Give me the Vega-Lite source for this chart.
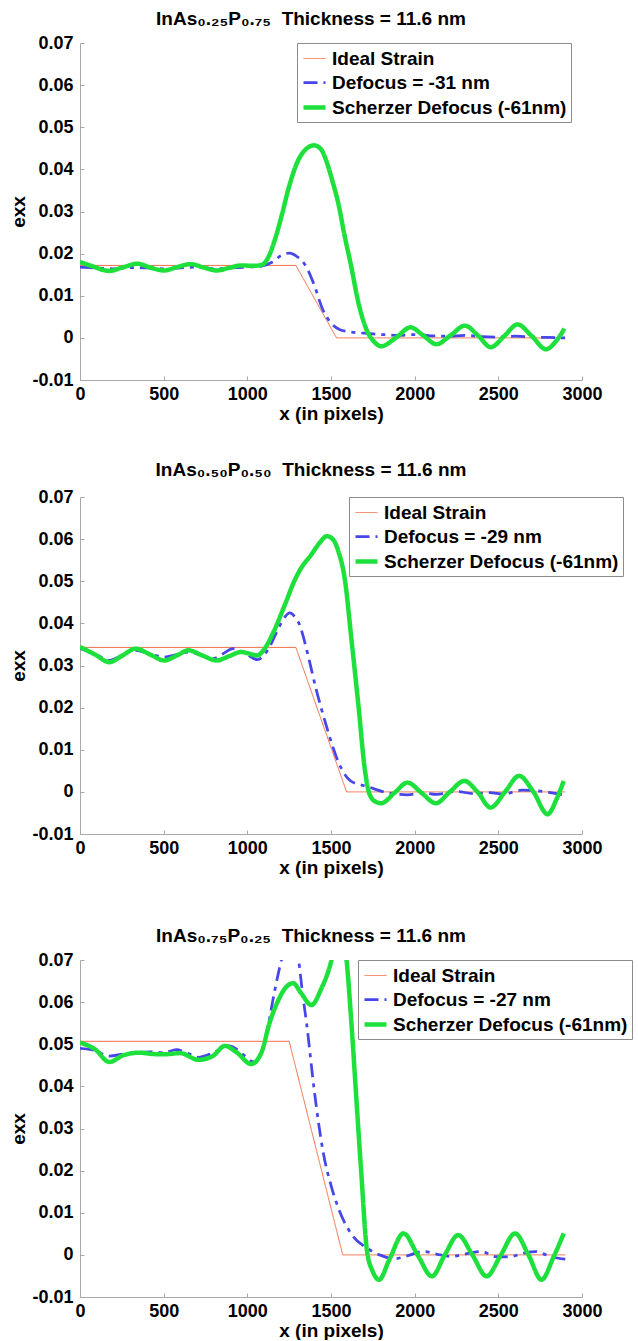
{
  "$schema": "https://vega.github.io/schema/vega-lite/v6.json",
  "padding": {"left": 9, "top": 10, "right": 0, "bottom": 0},
  "autosize": {"type": "pad"},
  "datasets": {
    "p1": [
      {"series": "Ideal Strain", "x": 0, "exx": 0.0172},
      {"series": "Ideal Strain", "x": 1290, "exx": 0.0172},
      {"series": "Ideal Strain", "x": 1533, "exx": 0},
      {"series": "Ideal Strain", "x": 2900, "exx": 0},
      {"series": "Defocus = -31 nm", "x": 0, "exx": 0.0168},
      {"series": "Defocus = -31 nm", "x": 100, "exx": 0.0166},
      {"series": "Defocus = -31 nm", "x": 200, "exx": 0.0164},
      {"series": "Defocus = -31 nm", "x": 300, "exx": 0.0167},
      {"series": "Defocus = -31 nm", "x": 400, "exx": 0.0166},
      {"series": "Defocus = -31 nm", "x": 500, "exx": 0.0164},
      {"series": "Defocus = -31 nm", "x": 600, "exx": 0.0166},
      {"series": "Defocus = -31 nm", "x": 700, "exx": 0.0168},
      {"series": "Defocus = -31 nm", "x": 800, "exx": 0.0164},
      {"series": "Defocus = -31 nm", "x": 900, "exx": 0.0166},
      {"series": "Defocus = -31 nm", "x": 1000, "exx": 0.0168},
      {"series": "Defocus = -31 nm", "x": 1080, "exx": 0.017},
      {"series": "Defocus = -31 nm", "x": 1150, "exx": 0.018},
      {"series": "Defocus = -31 nm", "x": 1200, "exx": 0.0195},
      {"series": "Defocus = -31 nm", "x": 1250, "exx": 0.0201},
      {"series": "Defocus = -31 nm", "x": 1300, "exx": 0.0192},
      {"series": "Defocus = -31 nm", "x": 1350, "exx": 0.017},
      {"series": "Defocus = -31 nm", "x": 1400, "exx": 0.0125},
      {"series": "Defocus = -31 nm", "x": 1450, "exx": 0.0068},
      {"series": "Defocus = -31 nm", "x": 1500, "exx": 0.0035},
      {"series": "Defocus = -31 nm", "x": 1550, "exx": 0.002},
      {"series": "Defocus = -31 nm", "x": 1620, "exx": 0.0014},
      {"series": "Defocus = -31 nm", "x": 1700, "exx": 0.0011},
      {"series": "Defocus = -31 nm", "x": 1800, "exx": 0.0008},
      {"series": "Defocus = -31 nm", "x": 1900, "exx": 0.0006},
      {"series": "Defocus = -31 nm", "x": 2000, "exx": 0.0008},
      {"series": "Defocus = -31 nm", "x": 2100, "exx": 0.0005},
      {"series": "Defocus = -31 nm", "x": 2200, "exx": 0.0004},
      {"series": "Defocus = -31 nm", "x": 2300, "exx": 0.0006},
      {"series": "Defocus = -31 nm", "x": 2400, "exx": 0.0003},
      {"series": "Defocus = -31 nm", "x": 2500, "exx": 0.0002},
      {"series": "Defocus = -31 nm", "x": 2600, "exx": 0.0004},
      {"series": "Defocus = -31 nm", "x": 2700, "exx": 0.0002},
      {"series": "Defocus = -31 nm", "x": 2800, "exx": 0.0001},
      {"series": "Defocus = -31 nm", "x": 2900, "exx": 0.0},
      {"series": "Scherzer Defocus (-61nm)", "x": 0, "exx": 0.018},
      {"series": "Scherzer Defocus (-61nm)", "x": 60, "exx": 0.0172},
      {"series": "Scherzer Defocus (-61nm)", "x": 175, "exx": 0.0159},
      {"series": "Scherzer Defocus (-61nm)", "x": 260, "exx": 0.0168},
      {"series": "Scherzer Defocus (-61nm)", "x": 344, "exx": 0.0176},
      {"series": "Scherzer Defocus (-61nm)", "x": 420, "exx": 0.0167},
      {"series": "Scherzer Defocus (-61nm)", "x": 502, "exx": 0.016},
      {"series": "Scherzer Defocus (-61nm)", "x": 580, "exx": 0.0168},
      {"series": "Scherzer Defocus (-61nm)", "x": 660, "exx": 0.0175},
      {"series": "Scherzer Defocus (-61nm)", "x": 740, "exx": 0.0167},
      {"series": "Scherzer Defocus (-61nm)", "x": 817, "exx": 0.016},
      {"series": "Scherzer Defocus (-61nm)", "x": 890, "exx": 0.0166},
      {"series": "Scherzer Defocus (-61nm)", "x": 963, "exx": 0.0172},
      {"series": "Scherzer Defocus (-61nm)", "x": 1040, "exx": 0.0171},
      {"series": "Scherzer Defocus (-61nm)", "x": 1090, "exx": 0.0174},
      {"series": "Scherzer Defocus (-61nm)", "x": 1133, "exx": 0.0198},
      {"series": "Scherzer Defocus (-61nm)", "x": 1170, "exx": 0.024},
      {"series": "Scherzer Defocus (-61nm)", "x": 1205, "exx": 0.029},
      {"series": "Scherzer Defocus (-61nm)", "x": 1250, "exx": 0.036},
      {"series": "Scherzer Defocus (-61nm)", "x": 1302, "exx": 0.042},
      {"series": "Scherzer Defocus (-61nm)", "x": 1350, "exx": 0.0448},
      {"series": "Scherzer Defocus (-61nm)", "x": 1399, "exx": 0.0457},
      {"series": "Scherzer Defocus (-61nm)", "x": 1440, "exx": 0.0448},
      {"series": "Scherzer Defocus (-61nm)", "x": 1472, "exx": 0.042},
      {"series": "Scherzer Defocus (-61nm)", "x": 1510, "exx": 0.037},
      {"series": "Scherzer Defocus (-61nm)", "x": 1545, "exx": 0.0317},
      {"series": "Scherzer Defocus (-61nm)", "x": 1580, "exx": 0.0245},
      {"series": "Scherzer Defocus (-61nm)", "x": 1618, "exx": 0.0175},
      {"series": "Scherzer Defocus (-61nm)", "x": 1666, "exx": 0.008},
      {"series": "Scherzer Defocus (-61nm)", "x": 1715, "exx": 0.0017},
      {"series": "Scherzer Defocus (-61nm)", "x": 1760, "exx": -0.001},
      {"series": "Scherzer Defocus (-61nm)", "x": 1800, "exx": -0.002},
      {"series": "Scherzer Defocus (-61nm)", "x": 1890, "exx": 0.0001},
      {"series": "Scherzer Defocus (-61nm)", "x": 1975, "exx": 0.0025},
      {"series": "Scherzer Defocus (-61nm)", "x": 2050, "exx": 0.0006},
      {"series": "Scherzer Defocus (-61nm)", "x": 2130, "exx": -0.0015},
      {"series": "Scherzer Defocus (-61nm)", "x": 2215, "exx": 0.0006},
      {"series": "Scherzer Defocus (-61nm)", "x": 2300, "exx": 0.0029},
      {"series": "Scherzer Defocus (-61nm)", "x": 2380, "exx": 0.0005},
      {"series": "Scherzer Defocus (-61nm)", "x": 2455, "exx": -0.0022},
      {"series": "Scherzer Defocus (-61nm)", "x": 2535, "exx": 0.0004},
      {"series": "Scherzer Defocus (-61nm)", "x": 2615, "exx": 0.0032},
      {"series": "Scherzer Defocus (-61nm)", "x": 2700, "exx": 0.0004},
      {"series": "Scherzer Defocus (-61nm)", "x": 2785, "exx": -0.0027},
      {"series": "Scherzer Defocus (-61nm)", "x": 2850, "exx": -0.0005},
      {"series": "Scherzer Defocus (-61nm)", "x": 2895, "exx": 0.0022}
    ],
    "p2": [
      {"series": "Ideal Strain", "x": 0, "exx": 0.0343},
      {"series": "Ideal Strain", "x": 1290, "exx": 0.0343},
      {"series": "Ideal Strain", "x": 1593, "exx": 0},
      {"series": "Ideal Strain", "x": 2900, "exx": 0},
      {"series": "Defocus = -29 nm", "x": 0, "exx": 0.034},
      {"series": "Defocus = -29 nm", "x": 90, "exx": 0.0328},
      {"series": "Defocus = -29 nm", "x": 175, "exx": 0.0312},
      {"series": "Defocus = -29 nm", "x": 255, "exx": 0.0325},
      {"series": "Defocus = -29 nm", "x": 332, "exx": 0.0336},
      {"series": "Defocus = -29 nm", "x": 420, "exx": 0.0327},
      {"series": "Defocus = -29 nm", "x": 502, "exx": 0.032},
      {"series": "Defocus = -29 nm", "x": 575, "exx": 0.0326},
      {"series": "Defocus = -29 nm", "x": 648, "exx": 0.0332},
      {"series": "Defocus = -29 nm", "x": 720, "exx": 0.0325},
      {"series": "Defocus = -29 nm", "x": 793, "exx": 0.0316},
      {"series": "Defocus = -29 nm", "x": 855, "exx": 0.0328},
      {"series": "Defocus = -29 nm", "x": 914, "exx": 0.034},
      {"series": "Defocus = -29 nm", "x": 990, "exx": 0.0328},
      {"series": "Defocus = -29 nm", "x": 1060, "exx": 0.0314},
      {"series": "Defocus = -29 nm", "x": 1100, "exx": 0.0325},
      {"series": "Defocus = -29 nm", "x": 1133, "exx": 0.0344},
      {"series": "Defocus = -29 nm", "x": 1170, "exx": 0.0375},
      {"series": "Defocus = -29 nm", "x": 1205, "exx": 0.0403},
      {"series": "Defocus = -29 nm", "x": 1254, "exx": 0.0425},
      {"series": "Defocus = -29 nm", "x": 1290, "exx": 0.0412},
      {"series": "Defocus = -29 nm", "x": 1314, "exx": 0.0395},
      {"series": "Defocus = -29 nm", "x": 1340, "exx": 0.036},
      {"series": "Defocus = -29 nm", "x": 1363, "exx": 0.0324},
      {"series": "Defocus = -29 nm", "x": 1411, "exx": 0.0244},
      {"series": "Defocus = -29 nm", "x": 1472, "exx": 0.0157},
      {"series": "Defocus = -29 nm", "x": 1510, "exx": 0.0108},
      {"series": "Defocus = -29 nm", "x": 1545, "exx": 0.007},
      {"series": "Defocus = -29 nm", "x": 1580, "exx": 0.0043},
      {"series": "Defocus = -29 nm", "x": 1617, "exx": 0.0026},
      {"series": "Defocus = -29 nm", "x": 1715, "exx": 0.0013},
      {"series": "Defocus = -29 nm", "x": 1836, "exx": -0.0002},
      {"series": "Defocus = -29 nm", "x": 1957, "exx": -0.0007},
      {"series": "Defocus = -29 nm", "x": 2050, "exx": -0.0002},
      {"series": "Defocus = -29 nm", "x": 2130, "exx": -0.0006},
      {"series": "Defocus = -29 nm", "x": 2250, "exx": 0.0001},
      {"series": "Defocus = -29 nm", "x": 2350, "exx": -0.0004},
      {"series": "Defocus = -29 nm", "x": 2450, "exx": -0.0002},
      {"series": "Defocus = -29 nm", "x": 2530, "exx": -0.0005},
      {"series": "Defocus = -29 nm", "x": 2640, "exx": 0.0004},
      {"series": "Defocus = -29 nm", "x": 2750, "exx": 0.0002},
      {"series": "Defocus = -29 nm", "x": 2830, "exx": -0.0003},
      {"series": "Defocus = -29 nm", "x": 2900, "exx": -0.0008},
      {"series": "Scherzer Defocus (-61nm)", "x": 0, "exx": 0.0344},
      {"series": "Scherzer Defocus (-61nm)", "x": 90, "exx": 0.0326},
      {"series": "Scherzer Defocus (-61nm)", "x": 175, "exx": 0.0308},
      {"series": "Scherzer Defocus (-61nm)", "x": 255, "exx": 0.0324},
      {"series": "Scherzer Defocus (-61nm)", "x": 332, "exx": 0.034},
      {"series": "Scherzer Defocus (-61nm)", "x": 420, "exx": 0.0326},
      {"series": "Scherzer Defocus (-61nm)", "x": 502, "exx": 0.0312},
      {"series": "Scherzer Defocus (-61nm)", "x": 580, "exx": 0.0324},
      {"series": "Scherzer Defocus (-61nm)", "x": 648, "exx": 0.0336},
      {"series": "Scherzer Defocus (-61nm)", "x": 730, "exx": 0.0324},
      {"series": "Scherzer Defocus (-61nm)", "x": 817, "exx": 0.0312},
      {"series": "Scherzer Defocus (-61nm)", "x": 890, "exx": 0.0322},
      {"series": "Scherzer Defocus (-61nm)", "x": 963, "exx": 0.0332},
      {"series": "Scherzer Defocus (-61nm)", "x": 1060, "exx": 0.0324},
      {"series": "Scherzer Defocus (-61nm)", "x": 1096, "exx": 0.0336},
      {"series": "Scherzer Defocus (-61nm)", "x": 1157, "exx": 0.038},
      {"series": "Scherzer Defocus (-61nm)", "x": 1230, "exx": 0.045},
      {"series": "Scherzer Defocus (-61nm)", "x": 1278, "exx": 0.0498},
      {"series": "Scherzer Defocus (-61nm)", "x": 1318, "exx": 0.0529},
      {"series": "Scherzer Defocus (-61nm)", "x": 1380, "exx": 0.0562},
      {"series": "Scherzer Defocus (-61nm)", "x": 1430, "exx": 0.059},
      {"series": "Scherzer Defocus (-61nm)", "x": 1475, "exx": 0.0607},
      {"series": "Scherzer Defocus (-61nm)", "x": 1510, "exx": 0.06},
      {"series": "Scherzer Defocus (-61nm)", "x": 1545, "exx": 0.057},
      {"series": "Scherzer Defocus (-61nm)", "x": 1585, "exx": 0.0498},
      {"series": "Scherzer Defocus (-61nm)", "x": 1620, "exx": 0.037},
      {"series": "Scherzer Defocus (-61nm)", "x": 1666, "exx": 0.0197},
      {"series": "Scherzer Defocus (-61nm)", "x": 1700, "exx": 0.006},
      {"series": "Scherzer Defocus (-61nm)", "x": 1730, "exx": -0.0005},
      {"series": "Scherzer Defocus (-61nm)", "x": 1765, "exx": -0.0023},
      {"series": "Scherzer Defocus (-61nm)", "x": 1800, "exx": -0.0027},
      {"series": "Scherzer Defocus (-61nm)", "x": 1880, "exx": -0.0002},
      {"series": "Scherzer Defocus (-61nm)", "x": 1957, "exx": 0.0022},
      {"series": "Scherzer Defocus (-61nm)", "x": 2040, "exx": -0.0002},
      {"series": "Scherzer Defocus (-61nm)", "x": 2127, "exx": -0.0027},
      {"series": "Scherzer Defocus (-61nm)", "x": 2210, "exx": 0.0},
      {"series": "Scherzer Defocus (-61nm)", "x": 2297, "exx": 0.0026},
      {"series": "Scherzer Defocus (-61nm)", "x": 2375, "exx": 0.0},
      {"series": "Scherzer Defocus (-61nm)", "x": 2454, "exx": -0.0037},
      {"series": "Scherzer Defocus (-61nm)", "x": 2540, "exx": 0.0},
      {"series": "Scherzer Defocus (-61nm)", "x": 2624, "exx": 0.0038},
      {"series": "Scherzer Defocus (-61nm)", "x": 2710, "exx": 0.0},
      {"series": "Scherzer Defocus (-61nm)", "x": 2794, "exx": -0.0053},
      {"series": "Scherzer Defocus (-61nm)", "x": 2850, "exx": -0.0015},
      {"series": "Scherzer Defocus (-61nm)", "x": 2891, "exx": 0.0026}
    ],
    "p3": [
      {"series": "Ideal Strain", "x": 0, "exx": 0.0507},
      {"series": "Ideal Strain", "x": 1250, "exx": 0.0507},
      {"series": "Ideal Strain", "x": 1570, "exx": 0},
      {"series": "Ideal Strain", "x": 2900, "exx": 0},
      {"series": "Defocus = -27 nm", "x": 0, "exx": 0.049},
      {"series": "Defocus = -27 nm", "x": 90, "exx": 0.0485},
      {"series": "Defocus = -27 nm", "x": 175, "exx": 0.0472},
      {"series": "Defocus = -27 nm", "x": 260, "exx": 0.0477},
      {"series": "Defocus = -27 nm", "x": 332, "exx": 0.048},
      {"series": "Defocus = -27 nm", "x": 420, "exx": 0.0482},
      {"series": "Defocus = -27 nm", "x": 502, "exx": 0.048},
      {"series": "Defocus = -27 nm", "x": 575, "exx": 0.0487},
      {"series": "Defocus = -27 nm", "x": 648, "exx": 0.0478},
      {"series": "Defocus = -27 nm", "x": 708, "exx": 0.0469},
      {"series": "Defocus = -27 nm", "x": 793, "exx": 0.0479},
      {"series": "Defocus = -27 nm", "x": 890, "exx": 0.0496},
      {"series": "Defocus = -27 nm", "x": 987, "exx": 0.0472},
      {"series": "Defocus = -27 nm", "x": 1036, "exx": 0.0458},
      {"series": "Defocus = -27 nm", "x": 1096, "exx": 0.0496},
      {"series": "Defocus = -27 nm", "x": 1127, "exx": 0.055},
      {"series": "Defocus = -27 nm", "x": 1160, "exx": 0.062},
      {"series": "Defocus = -27 nm", "x": 1204, "exx": 0.07},
      {"series": "Defocus = -27 nm", "x": 1255, "exx": 0.076},
      {"series": "Defocus = -27 nm", "x": 1306, "exx": 0.07},
      {"series": "Defocus = -27 nm", "x": 1330, "exx": 0.062},
      {"series": "Defocus = -27 nm", "x": 1354, "exx": 0.055},
      {"series": "Defocus = -27 nm", "x": 1400, "exx": 0.039},
      {"series": "Defocus = -27 nm", "x": 1455, "exx": 0.024},
      {"series": "Defocus = -27 nm", "x": 1500, "exx": 0.0165},
      {"series": "Defocus = -27 nm", "x": 1545, "exx": 0.011},
      {"series": "Defocus = -27 nm", "x": 1630, "exx": 0.0045},
      {"series": "Defocus = -27 nm", "x": 1715, "exx": 0.0016},
      {"series": "Defocus = -27 nm", "x": 1790, "exx": 0.0},
      {"series": "Defocus = -27 nm", "x": 1880, "exx": -0.0009},
      {"series": "Defocus = -27 nm", "x": 1950, "exx": -0.0003},
      {"series": "Defocus = -27 nm", "x": 2050, "exx": 0.0008},
      {"series": "Defocus = -27 nm", "x": 2130, "exx": 0.0002},
      {"series": "Defocus = -27 nm", "x": 2220, "exx": -0.0004},
      {"series": "Defocus = -27 nm", "x": 2300, "exx": 0.0002},
      {"series": "Defocus = -27 nm", "x": 2400, "exx": 0.0008},
      {"series": "Defocus = -27 nm", "x": 2480, "exx": -0.0004},
      {"series": "Defocus = -27 nm", "x": 2560, "exx": -0.0005},
      {"series": "Defocus = -27 nm", "x": 2650, "exx": 0.0004},
      {"series": "Defocus = -27 nm", "x": 2720, "exx": 0.0008},
      {"series": "Defocus = -27 nm", "x": 2800, "exx": -0.0002},
      {"series": "Defocus = -27 nm", "x": 2860, "exx": -0.0008},
      {"series": "Defocus = -27 nm", "x": 2900, "exx": -0.001},
      {"series": "Scherzer Defocus (-61nm)", "x": 0, "exx": 0.0504},
      {"series": "Scherzer Defocus (-61nm)", "x": 90, "exx": 0.0488},
      {"series": "Scherzer Defocus (-61nm)", "x": 175, "exx": 0.0458},
      {"series": "Scherzer Defocus (-61nm)", "x": 260, "exx": 0.0474},
      {"series": "Scherzer Defocus (-61nm)", "x": 356, "exx": 0.048},
      {"series": "Scherzer Defocus (-61nm)", "x": 430, "exx": 0.0477},
      {"series": "Scherzer Defocus (-61nm)", "x": 502, "exx": 0.0476},
      {"series": "Scherzer Defocus (-61nm)", "x": 599, "exx": 0.0479},
      {"series": "Scherzer Defocus (-61nm)", "x": 708, "exx": 0.0463},
      {"series": "Scherzer Defocus (-61nm)", "x": 793, "exx": 0.0472},
      {"series": "Scherzer Defocus (-61nm)", "x": 866, "exx": 0.0496},
      {"series": "Scherzer Defocus (-61nm)", "x": 938, "exx": 0.048},
      {"series": "Scherzer Defocus (-61nm)", "x": 1023, "exx": 0.0453},
      {"series": "Scherzer Defocus (-61nm)", "x": 1084, "exx": 0.048},
      {"series": "Scherzer Defocus (-61nm)", "x": 1133, "exx": 0.0551},
      {"series": "Scherzer Defocus (-61nm)", "x": 1180, "exx": 0.06},
      {"series": "Scherzer Defocus (-61nm)", "x": 1230, "exx": 0.0635},
      {"series": "Scherzer Defocus (-61nm)", "x": 1274, "exx": 0.0645},
      {"series": "Scherzer Defocus (-61nm)", "x": 1320, "exx": 0.0622},
      {"series": "Scherzer Defocus (-61nm)", "x": 1383, "exx": 0.0593},
      {"series": "Scherzer Defocus (-61nm)", "x": 1440, "exx": 0.063},
      {"series": "Scherzer Defocus (-61nm)", "x": 1503, "exx": 0.07},
      {"series": "Scherzer Defocus (-61nm)", "x": 1550, "exx": 0.079},
      {"series": "Scherzer Defocus (-61nm)", "x": 1593, "exx": 0.07},
      {"series": "Scherzer Defocus (-61nm)", "x": 1622, "exx": 0.055},
      {"series": "Scherzer Defocus (-61nm)", "x": 1650, "exx": 0.038},
      {"series": "Scherzer Defocus (-61nm)", "x": 1680, "exx": 0.02},
      {"series": "Scherzer Defocus (-61nm)", "x": 1715, "exx": 0.001},
      {"series": "Scherzer Defocus (-61nm)", "x": 1750, "exx": -0.004},
      {"series": "Scherzer Defocus (-61nm)", "x": 1787, "exx": -0.0059},
      {"series": "Scherzer Defocus (-61nm)", "x": 1850, "exx": -0.001},
      {"series": "Scherzer Defocus (-61nm)", "x": 1933, "exx": 0.0051},
      {"series": "Scherzer Defocus (-61nm)", "x": 2020, "exx": -0.0002},
      {"series": "Scherzer Defocus (-61nm)", "x": 2103, "exx": -0.0051},
      {"series": "Scherzer Defocus (-61nm)", "x": 2180, "exx": 0.0},
      {"series": "Scherzer Defocus (-61nm)", "x": 2260, "exx": 0.0047},
      {"series": "Scherzer Defocus (-61nm)", "x": 2345, "exx": 0.0},
      {"series": "Scherzer Defocus (-61nm)", "x": 2430, "exx": -0.0051},
      {"series": "Scherzer Defocus (-61nm)", "x": 2515, "exx": 0.0},
      {"series": "Scherzer Defocus (-61nm)", "x": 2600, "exx": 0.0051},
      {"series": "Scherzer Defocus (-61nm)", "x": 2680, "exx": 0.0},
      {"series": "Scherzer Defocus (-61nm)", "x": 2758, "exx": -0.0059},
      {"series": "Scherzer Defocus (-61nm)", "x": 2830, "exx": -0.0005},
      {"series": "Scherzer Defocus (-61nm)", "x": 2891, "exx": 0.0051}
    ]
  },
  "spacing": 50,
  "resolve": {"scale": {"color": "independent", "strokeDash": "independent", "strokeWidth": "independent"}, "legend": {"color": "independent", "strokeDash": "independent", "strokeWidth": "independent"}},
  "vconcat": [
    {
      "spacing": 38,
      "resolve": {"scale": {"color": "independent", "strokeDash": "independent", "strokeWidth": "independent"}, "legend": {"color": "independent", "strokeDash": "independent", "strokeWidth": "independent"}},
      "vconcat": [
        {
          "width": 502, "height": 337,
          "title": {"text": "InAs₀.₂₅P₀.₇₅\u00a0 Thickness = 11.6 nm", "offset": 5, "dx": -20, "frame": "group"},
          "data": {"name": "p1"},
          "encoding": {
            "x": {"field": "x", "type": "quantitative", "scale": {"domain": [0, 3000], "nice": false}, "axis": {"title": "x (in pixels)", "values": [0, 500, 1000, 1500, 2000, 2500, 3000], "format": "d"}},
            "y": {"field": "exx", "type": "quantitative", "scale": {"domain": [-0.01, 0.07], "nice": false, "zero": false}, "axis": {"title": "exx", "values": [-0.01, 0, 0.01, 0.02, 0.03, 0.04, 0.05, 0.06, 0.07], "labelExpr": "datum.value < -0.001 ? '-' + format(-datum.value, '.2f') : (abs(datum.value) < 0.001 ? '0' : format(datum.value, '.2f'))"}},
            "color": {"field": "series", "type": "nominal", "scale": {"domain": ["Ideal Strain", "Defocus = -31 nm", "Scherzer Defocus (-61nm)"], "range": ["#f06e46", "#4646ea", "#1ee03c"]}, "legend": {"legendX": 217, "legendY": 0}},
            "strokeDash": {"field": "series", "type": "nominal", "scale": {"domain": ["Ideal Strain", "Defocus = -31 nm", "Scherzer Defocus (-61nm)"], "range": [[1, 0], [14, 6, 4, 6], [1, 0]]}, "legend": {"legendX": 217, "legendY": 0}},
            "strokeWidth": {"field": "series", "type": "nominal", "scale": {"domain": ["Ideal Strain", "Defocus = -31 nm", "Scherzer Defocus (-61nm)"], "range": [1, 4.5, 4.5]}, "legend": {"legendX": 217, "legendY": 0}}
          },
          "layer": [
            {"transform": [{"filter": {"field": "series", "equal": "Ideal Strain"}}], "mark": {"type": "line", "clip": true, "interpolate": "linear"}},
            {"transform": [{"filter": {"field": "series", "equal": "Defocus = -31 nm"}}], "mark": {"type": "line", "clip": true, "interpolate": "monotone"}},
            {"transform": [{"filter": {"field": "series", "equal": "Scherzer Defocus (-61nm)"}}], "mark": {"type": "line", "clip": true, "interpolate": "monotone"}}
          ]
        },
        {
          "width": 502, "height": 337,
          "title": {"text": "InAs₀.₅₀P₀.₅₀\u00a0 Thickness = 11.6 nm", "offset": 8, "dx": -20, "frame": "group"},
          "data": {"name": "p2"},
          "encoding": {
            "x": {"field": "x", "type": "quantitative", "scale": {"domain": [0, 3000], "nice": false}, "axis": {"title": "x (in pixels)", "values": [0, 500, 1000, 1500, 2000, 2500, 3000], "format": "d"}},
            "y": {"field": "exx", "type": "quantitative", "scale": {"domain": [-0.01, 0.07], "nice": false, "zero": false}, "axis": {"title": "exx", "values": [-0.01, 0, 0.01, 0.02, 0.03, 0.04, 0.05, 0.06, 0.07], "labelExpr": "datum.value < -0.001 ? '-' + format(-datum.value, '.2f') : (abs(datum.value) < 0.001 ? '0' : format(datum.value, '.2f'))"}},
            "color": {"field": "series", "type": "nominal", "scale": {"domain": ["Ideal Strain", "Defocus = -29 nm", "Scherzer Defocus (-61nm)"], "range": ["#f06e46", "#4646ea", "#1ee03c"]}, "legend": {"legendX": 269, "legendY": 0}},
            "strokeDash": {"field": "series", "type": "nominal", "scale": {"domain": ["Ideal Strain", "Defocus = -29 nm", "Scherzer Defocus (-61nm)"], "range": [[1, 0], [14, 6, 4, 6], [1, 0]]}, "legend": {"legendX": 269, "legendY": 0}},
            "strokeWidth": {"field": "series", "type": "nominal", "scale": {"domain": ["Ideal Strain", "Defocus = -29 nm", "Scherzer Defocus (-61nm)"], "range": [1, 4.5, 4.5]}, "legend": {"legendX": 269, "legendY": 0}}
          },
          "layer": [
            {"transform": [{"filter": {"field": "series", "equal": "Ideal Strain"}}], "mark": {"type": "line", "clip": true, "interpolate": "linear"}},
            {"transform": [{"filter": {"field": "series", "equal": "Defocus = -29 nm"}}], "mark": {"type": "line", "clip": true, "interpolate": "monotone"}},
            {"transform": [{"filter": {"field": "series", "equal": "Scherzer Defocus (-61nm)"}}], "mark": {"type": "line", "clip": true, "interpolate": "monotone"}}
          ]
        }
      ]
    },
    {
      "width": 502, "height": 337,
      "title": {"text": "InAs₀.₇₅P₀.₂₅\u00a0 Thickness = 11.6 nm", "offset": 5, "dx": -20, "frame": "group"},
      "data": {"name": "p3"},
      "encoding": {
        "x": {"field": "x", "type": "quantitative", "scale": {"domain": [0, 3000], "nice": false}, "axis": {"title": "x (in pixels)", "values": [0, 500, 1000, 1500, 2000, 2500, 3000], "format": "d"}},
        "y": {"field": "exx", "type": "quantitative", "scale": {"domain": [-0.01, 0.07], "nice": false, "zero": false}, "axis": {"title": "exx", "values": [-0.01, 0, 0.01, 0.02, 0.03, 0.04, 0.05, 0.06, 0.07], "labelExpr": "datum.value < -0.001 ? '-' + format(-datum.value, '.2f') : (abs(datum.value) < 0.001 ? '0' : format(datum.value, '.2f'))"}},
        "color": {"field": "series", "type": "nominal", "scale": {"domain": ["Ideal Strain", "Defocus = -27 nm", "Scherzer Defocus (-61nm)"], "range": ["#f06e46", "#4646ea", "#1ee03c"]}, "legend": {"legendX": 278, "legendY": 0}},
        "strokeDash": {"field": "series", "type": "nominal", "scale": {"domain": ["Ideal Strain", "Defocus = -27 nm", "Scherzer Defocus (-61nm)"], "range": [[1, 0], [14, 6, 4, 6], [1, 0]]}, "legend": {"legendX": 278, "legendY": 0}},
        "strokeWidth": {"field": "series", "type": "nominal", "scale": {"domain": ["Ideal Strain", "Defocus = -27 nm", "Scherzer Defocus (-61nm)"], "range": [1, 4.5, 4.5]}, "legend": {"legendX": 278, "legendY": 0}}
      },
      "layer": [
        {"transform": [{"filter": {"field": "series", "equal": "Ideal Strain"}}], "mark": {"type": "line", "clip": true, "interpolate": "linear"}},
        {"transform": [{"filter": {"field": "series", "equal": "Defocus = -27 nm"}}], "mark": {"type": "line", "clip": true, "interpolate": "monotone"}},
        {"transform": [{"filter": {"field": "series", "equal": "Scherzer Defocus (-61nm)"}}], "mark": {"type": "line", "clip": true, "interpolate": "monotone"}}
      ]
    }
  ],
  "config": {
    "view": {"stroke": null},
    "font": "Liberation Sans",
    "title": {"font": "Liberation Sans", "fontSize": 19, "fontWeight": "bold", "color": "#000000"},
    "axis": {"labelFont": "Liberation Sans", "labelFontSize": 18, "labelFontWeight": "bold", "labelColor": "#000000", "titleFont": "Liberation Sans", "titleFontSize": 19, "titleFontWeight": "bold", "titleColor": "#000000", "domainColor": "#a8a8a8", "tickColor": "#a8a8a8", "tickSize": -4, "grid": false, "labelFlush": false, "labelOverlap": false, "labelBound": false},
    "axisX": {"labelPadding": 9, "titlePadding": 1},
    "axisY": {"labelPadding": 11, "titlePadding": 3},
    "legend": {"orient": "none", "title": null, "fillColor": "#ffffff", "strokeColor": "#8c8c8c", "padding": 4, "symbolType": "stroke", "symbolSize": 484, "labelFont": "Liberation Sans", "labelFontSize": 19, "labelFontWeight": "bold", "labelColor": "#000000", "labelLimit": 400, "labelOffset": 4, "rowPadding": 1}
  }
}
